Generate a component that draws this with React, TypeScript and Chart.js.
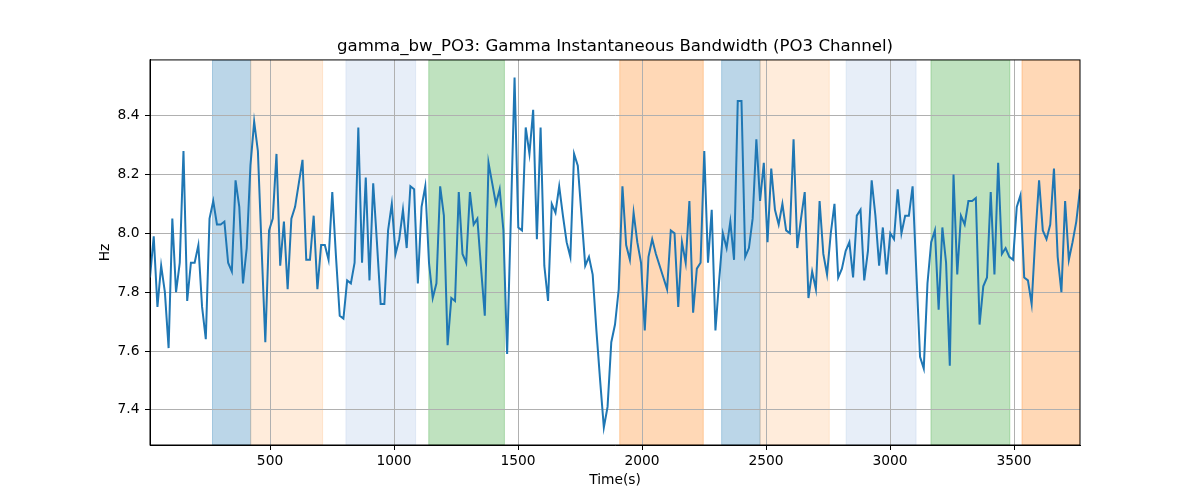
import { useEffect, useRef } from "react";
import { Chart, registerables } from "chart.js";

Chart.register(...registerables);

// sample times: first sample and sampling step (seconds)
const T0 = 16;
const DT = 15;

const bandwidth = [
  7.85, 7.99, 7.75, 7.89, 7.80, 7.61, 8.05, 7.80, 7.90, 8.28,
  7.77, 7.90, 7.90, 7.96, 7.75, 7.64, 8.05, 8.11, 8.03, 8.03,
  8.04, 7.90, 7.87, 8.18, 8.09, 7.83, 7.95, 8.23, 8.38, 8.28,
  7.95, 7.63, 8.01, 8.05, 8.27, 7.89, 8.04, 7.81, 8.05, 8.09,
  8.17, 8.25, 7.91, 7.91, 8.06, 7.81, 7.96, 7.96, 7.91, 8.14,
  7.92, 7.72, 7.71, 7.84, 7.83, 7.90, 8.36, 7.90, 8.19, 7.84,
  8.17, 7.97, 7.76, 7.76, 8.01, 8.10, 7.93, 7.98, 8.08, 7.95,
  8.16, 8.15, 7.83, 8.09, 8.16, 7.90, 7.78, 7.83, 8.16, 8.06,
  7.62, 7.78, 7.77, 8.14, 7.93, 7.90, 8.14, 8.03, 8.05, 7.88,
  7.72, 8.24, 8.17, 8.10, 8.15, 8.01, 7.59, 8.05, 8.53, 8.02,
  8.01, 8.36, 8.27, 8.42, 7.98, 8.36, 7.89, 7.77, 8.10, 8.07,
  8.16, 8.06, 7.97, 7.92, 8.27, 8.23, 8.06, 7.89, 7.92, 7.86,
  7.67, 7.50, 7.34, 7.41, 7.63, 7.69, 7.81, 8.16, 7.96, 7.91,
  8.07, 7.97, 7.90, 7.67, 7.92, 7.98, 7.93, 7.89, 7.85, 7.81,
  8.01, 8.00, 7.75, 7.97, 7.90, 8.11, 7.73, 7.88, 7.90, 8.28,
  7.90, 8.08, 7.67, 7.84, 8.00, 7.95, 8.04, 7.91, 8.45, 8.45,
  7.92, 7.95, 8.05, 8.32, 8.11, 8.24, 7.97, 8.22, 8.08, 8.03,
  8.10, 8.01, 8.00, 8.32, 7.95, 8.05, 8.14, 7.78, 7.87, 7.81,
  8.11, 7.93, 7.86, 8.00, 8.10, 7.85, 7.88, 7.94, 7.97, 7.85,
  8.06, 8.08, 7.84, 7.94, 8.18, 8.06, 7.89, 8.02, 7.86, 8.00,
  7.98, 8.15, 8.00, 8.06, 8.06, 8.16, 7.87, 7.58, 7.54, 7.83,
  7.97, 8.01, 7.74, 8.02, 7.90, 7.55, 8.20, 7.86, 8.06, 8.03,
  8.11, 8.11, 8.12, 7.69, 7.82, 7.85, 8.14, 7.86, 8.24, 7.93,
  7.95, 7.92, 7.91, 8.09, 8.13, 7.85, 7.84, 7.76, 7.99, 8.18,
  8.01, 7.98, 8.03, 8.22, 7.92, 7.80, 8.11, 7.91, 7.97, 8.04,
  8.15,
];

const times = bandwidth.map((_, i) => T0 + i * DT);

// shaded intervals
const bandStart = [268, 422, 806, 1140, 1910, 2321, 2476, 2823, 3165, 3532];
const bandEnd = [422, 712, 1087, 1445, 2247, 2476, 2755, 3105, 3483, 3766];
const bandColor = [
  "rgba(31,119,180,0.3)",
  "rgba(255,127,14,0.15)",
  "rgba(174,199,232,0.3)",
  "rgba(44,160,44,0.3)",
  "rgba(255,127,14,0.3)",
  "rgba(31,119,180,0.3)",
  "rgba(255,127,14,0.15)",
  "rgba(174,199,232,0.3)",
  "rgba(44,160,44,0.3)",
  "rgba(255,127,14,0.3)",
];

const xTicks = [500, 1000, 1500, 2000, 2500, 3000, 3500];
const yTicks = [7.4, 7.6, 7.8, 8.0, 8.2, 8.4];

const bandsPlugin = {
  id: "bands",
  beforeDraw(chart: Chart) {
    const { ctx, chartArea, scales } = chart;
    const xs = scales.x;
    ctx.save();
    ctx.beginPath();
    ctx.rect(chartArea.left, chartArea.top, chartArea.right - chartArea.left, chartArea.bottom - chartArea.top);
    ctx.clip();
    bandStart.forEach((s, i) => {
      const x0 = xs.getPixelForValue(s);
      const x1 = xs.getPixelForValue(bandEnd[i]);
      ctx.fillStyle = bandColor[i];
      ctx.fillRect(x0, chartArea.top, x1 - x0, chartArea.bottom - chartArea.top);
      ctx.strokeStyle = bandColor[i];
      ctx.lineWidth = 1;
      ctx.strokeRect(x0, chartArea.top, x1 - x0, chartArea.bottom - chartArea.top);
    });
    ctx.restore();
  },
  afterDraw(chart: Chart) {
    const { ctx, chartArea } = chart;
    ctx.save();
    ctx.strokeStyle = "#000";
    ctx.lineWidth = 1;
    ctx.strokeRect(chartArea.left, chartArea.top, chartArea.right - chartArea.left, chartArea.bottom - chartArea.top);
    ctx.restore();
  },
};

export default function App() {
  const canvasRef = useRef<HTMLCanvasElement>(null);
  const chartRef = useRef<Chart | null>(null);

  useEffect(() => {
    if (!canvasRef.current) return;
    if (chartRef.current) chartRef.current.destroy();

    Chart.defaults.font.family = "'DejaVu Sans', sans-serif";
    Chart.defaults.color = "#000";

    const yMin = Math.min(...bandwidth);
    const yMax = Math.max(...bandwidth);
    const pad = (yMax - yMin) * 0.05;

    chartRef.current = new Chart(canvasRef.current, {
      type: "line",
      data: {
        datasets: [
          {
            label: "gamma_bw_PO3",
            data: times.map((t, i) => ({ x: t, y: bandwidth[i] })),
            borderColor: "#1f77b4",
            borderWidth: 2,
            pointRadius: 0,
            tension: 0,
            fill: false,
          },
        ],
      },
      options: {
        responsive: false,
        animation: false,
        layout: { padding: { left: 0, right: 120, top: 0, bottom: 0 } },
        plugins: {
          legend: { display: false },
          tooltip: { enabled: false },
          title: {
            display: true,
            text: "gamma_bw_PO3: Gamma Instantaneous Bandwidth (PO3 Channel)",
            font: { size: 16.6, weight: "normal" },
            color: "#000",
            fullSize: false,
            padding: { top: 37, bottom: 3 },
          },
        },
        scales: {
          x: {
            type: "linear",
            min: times[0],
            max: times[times.length - 1],
            afterFit: (s: any) => {
              s.height = 55;
            },
            afterBuildTicks: (s: any) => {
              s.ticks = xTicks.map((v) => ({ value: v }));
            },
            ticks: {
              font: { size: 13.8 },
              color: "#000",
              padding: 3,
              maxRotation: 0,
              autoSkip: false,
              callback: (v: any) => String(v),
            },
            grid: {
              color: "#b0b0b0",
              lineWidth: 1,
              tickColor: "#000",
              tickLength: 5,
              tickWidth: 1,
            },
            border: { display: true, color: "#000", width: 1 },
            title: {
              display: true,
              text: "Time(s)",
              font: { size: 13.8 },
              color: "#000",
              padding: { top: 4, bottom: 11 },
            },
          },
          y: {
            type: "linear",
            min: yMin - pad,
            max: yMax + pad,
            afterFit: (s: any) => {
              s.width = 150;
            },
            afterBuildTicks: (s: any) => {
              s.ticks = yTicks.map((v) => ({ value: v }));
            },
            ticks: {
              font: { size: 13.8 },
              color: "#000",
              padding: 5.5,
              autoSkip: false,
              callback: (v: any) => Number(v).toFixed(1),
            },
            grid: {
              color: "#b0b0b0",
              lineWidth: 1,
              tickColor: "#000",
              tickLength: 5,
              tickWidth: 1,
            },
            border: { display: true, color: "#000", width: 1 },
            title: {
              display: true,
              text: "Hz",
              font: { size: 13.8 },
              color: "#000",
              padding: { top: 97, bottom: 4 },
            },
          },
        },
      },
      plugins: [bandsPlugin],
    });

    return () => {
      if (chartRef.current) {
        chartRef.current.destroy();
        chartRef.current = null;
      }
    };
  }, []);

  return (
    <div style={{ position: "absolute", left: 0, top: 0, width: 1200, height: 500, background: "#fff" }}>
      <canvas ref={canvasRef} width={1200} height={500} />
    </div>
  );
}
